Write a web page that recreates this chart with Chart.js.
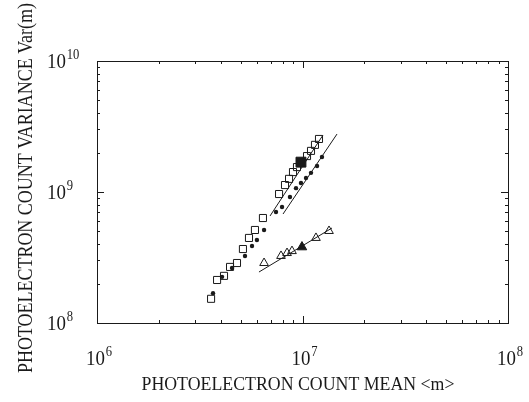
<!DOCTYPE html>
<html>
<head>
<meta charset="utf-8">
<script src="https://cdn.jsdelivr.net/npm/chart.js@4.4.1/dist/chart.umd.min.js"></script>
<style>
  html, body { margin: 0; padding: 0; background: #fff; }
</style>
</head>
<body>
<canvas id="varChart" width="529" height="402"></canvas>
<script>
// open squares
const squareMean = [3.59e6, 3.84e6, 4.15e6, 4.44e6, 4.80e6, 5.13e6, 5.49e6, 5.87e6, 6.42e6,
                    7.69e6, 8.22e6, 8.60e6, 8.99e6, 9.40e6, 1.052e7, 1.10e7, 1.15e7, 1.203e7];
const squareVar = [1.53e8, 2.13e8, 2.29e8, 2.68e8, 2.87e8, 3.67e8, 4.46e8, 5.13e8, 6.33e8,
                   9.65e8, 1.13e9, 1.26e9, 1.42e9, 1.55e9, 1.88e9, 2.06e9, 2.29e9, 2.54e9];
// filled dots
const dotMean = [3.67e6, 4.06e6, 4.54e6, 5.25e6, 5.68e6, 6.00e6, 6.50e6, 7.43e6, 7.95e6,
                 8.69e6, 9.30e6, 9.83e6, 1.04e7, 1.10e7, 1.177e7, 1.244e7];
const dotVar = [1.69e8, 2.25e8, 2.63e8, 3.25e8, 3.87e8, 4.30e8, 5.13e8, 7.04e8, 7.68e8,
                9.16e8, 1.07e9, 1.17e9, 1.28e9, 1.40e9, 1.58e9, 1.85e9];
// open triangles
const triMean = [6.50e6, 7.86e6, 8.41e6, 8.89e6, 1.163e7, 1.346e7];
const triVar = [2.87e8, 3.25e8, 3.42e8, 3.54e8, 4.46e8, 5.04e8];
// the two filled markers
const bigSquare = [9.83e6, 1.69e9];
const bigTriangle = [9.94e6, 3.80e8];
// fitted lines: [mean start, mean end], [var start, var end]
const fitSquareMean = [6.95e6, 1.258e7], fitSquareVar = [6.56e8, 2.72e9];
const fitDotMean = [8.04e6, 1.472e7], fitDotVar = [6.79e8, 2.77e9];
const fitTriMean = [6.14e6, 1.392e7], fitTriVar = [2.45e8, 5.31e8];

const xTickExps = [6, 7, 8];
const yTickExps = [8, 9, 10];
const xTitle = 'PHOTOELECTRON COUNT MEAN <m>';
const yTitle = 'PHOTOELECTRON COUNT VARIANCE Var(m)';

function pts(xs, ys) {
    return xs.map((x, i) => ({ x: x, y: ys[i] }));
}

const ink = '#1a1a1a';
const serif = '"Liberation Serif", "DejaVu Serif", serif';

// draw text squeezed to a target width
function fitText(ctx, text, x, y, width) {
    const w = ctx.measureText(text).width;
    ctx.save();
    ctx.translate(x, y);
    ctx.scale(width / w, 1);
    ctx.textAlign = 'center';
    ctx.fillText(text, 0, 0);
    ctx.restore();
}

function powLabel(ctx, exp, x, y, align) {
    ctx.save();
    ctx.translate(x, y);
    ctx.scale(0.9, 1);
    ctx.font = '21px ' + serif;
    const base = ctx.measureText('10').width;
    ctx.font = '14px ' + serif;
    const sup = ctx.measureText(String(exp)).width;
    let start = align === 'center' ? -(base + sup + 1) / 2 : 0;
    ctx.textAlign = 'left';
    ctx.font = '21px ' + serif;
    ctx.fillText('10', start, 0);
    ctx.font = '14px ' + serif;
    ctx.fillText(String(exp), start + base + 1, -9);
    ctx.restore();
}

const framePlugin = {
    id: 'frame',
    afterDraw(chart) {
        const ctx = chart.ctx;
        const a = chart.chartArea;
        const xs = chart.scales.x, ys = chart.scales.y;
        ctx.save();
        ctx.strokeStyle = ink;
        ctx.lineWidth = 1;
        ctx.strokeRect(a.left + 0.5, a.top + 0.5, a.right - a.left, a.bottom - a.top);

        // ticks, inside the box
        ctx.beginPath();
        for (let k = 6; k <= 8; k++) {
            for (let m = 1; m <= 9; m++) {
                const v = m * Math.pow(10, k);
                if (v > 1e8) break;
                const px = Math.round(xs.getPixelForValue(v)) + 0.5;
                const len = m === 1 ? 7 : 3;
                ctx.moveTo(px, a.bottom); ctx.lineTo(px, a.bottom - len);
                ctx.moveTo(px, a.top); ctx.lineTo(px, a.top + len);
            }
        }
        for (let k = 8; k <= 10; k++) {
            for (let m = 1; m <= 9; m++) {
                const v = m * Math.pow(10, k);
                if (v > 1e10) break;
                const py = Math.round(ys.getPixelForValue(v)) + 0.5;
                const len = m === 1 ? 7 : 3;
                ctx.moveTo(a.left, py); ctx.lineTo(a.left + len, py);
                ctx.moveTo(a.right, py); ctx.lineTo(a.right - len, py);
            }
        }
        ctx.stroke();

        // tick labels
        ctx.fillStyle = ink;
        ctx.textBaseline = 'alphabetic';
        xTickExps.forEach(e => {
            powLabel(ctx, e, xs.getPixelForValue(Math.pow(10, e)) + 2, 365, 'center');
        });
        yTickExps.forEach(e => {
            powLabel(ctx, e, 47, ys.getPixelForValue(Math.pow(10, e)) + 7, 'left');
        });

        // axis titles
        ctx.font = '19px ' + serif;
        fitText(ctx, xTitle, 298, 390, 313);
        ctx.save();
        ctx.translate(32, 188);
        ctx.rotate(-Math.PI / 2);
        ctx.font = '22px ' + serif;
        fitText(ctx, yTitle, 0, 0, 370);
        ctx.restore();
        ctx.restore();
    }
};

const lineStyle = { type: 'line', borderColor: ink, borderWidth: 1, pointRadius: 0, fill: false };

const ctx = document.getElementById('varChart').getContext('2d');
const myChart = new Chart(ctx, {
    type: 'scatter',
    data: {
        datasets: [
            Object.assign({ data: pts(fitSquareMean, fitSquareVar) }, lineStyle),
            Object.assign({ data: pts(fitDotMean, fitDotVar) }, lineStyle),
            Object.assign({ data: pts(fitTriMean, fitTriVar) }, lineStyle),
            {
                label: 'squares',
                data: pts(squareMean, squareVar),
                pointStyle: 'rect',
                pointRadius: 5,
                borderColor: ink,
                borderWidth: 1,
                backgroundColor: 'rgba(255,255,255,0)'
            },
            {
                label: 'dots',
                data: pts(dotMean, dotVar),
                pointStyle: 'circle',
                pointRadius: 2.2,
                borderWidth: 0,
                backgroundColor: ink
            },
            {
                label: 'triangles',
                data: pts(triMean, triVar),
                pointStyle: 'triangle',
                pointRadius: 5,
                borderColor: ink,
                borderWidth: 1,
                backgroundColor: 'rgba(255,255,255,0)'
            },
            {
                label: 'big square',
                data: [{ x: bigSquare[0], y: bigSquare[1] }],
                pointStyle: 'rect',
                pointRadius: 7,
                borderColor: ink,
                backgroundColor: ink
            },
            {
                label: 'big triangle',
                data: [{ x: bigTriangle[0], y: bigTriangle[1] }],
                pointStyle: 'triangle',
                pointRadius: 5.5,
                borderColor: ink,
                backgroundColor: ink
            }
        ]
    },
    options: {
        responsive: false,
        animation: false,
        devicePixelRatio: 1,
        layout: { padding: { top: 61, right: 21, left: 0, bottom: 0 } },
        plugins: { legend: { display: false }, tooltip: { enabled: false } },
        scales: {
            x: {
                type: 'logarithmic', min: 1e6, max: 1e8,
                ticks: { display: false }, grid: { display: false }, border: { display: false },
                afterFit(s) { s.height = 79; }
            },
            y: {
                type: 'logarithmic', min: 1e8, max: 1e10,
                ticks: { display: false }, grid: { display: false }, border: { display: false },
                afterFit(s) { s.width = 97; }
            }
        }
    },
    plugins: [framePlugin]
});
</script>
</body>
</html>
